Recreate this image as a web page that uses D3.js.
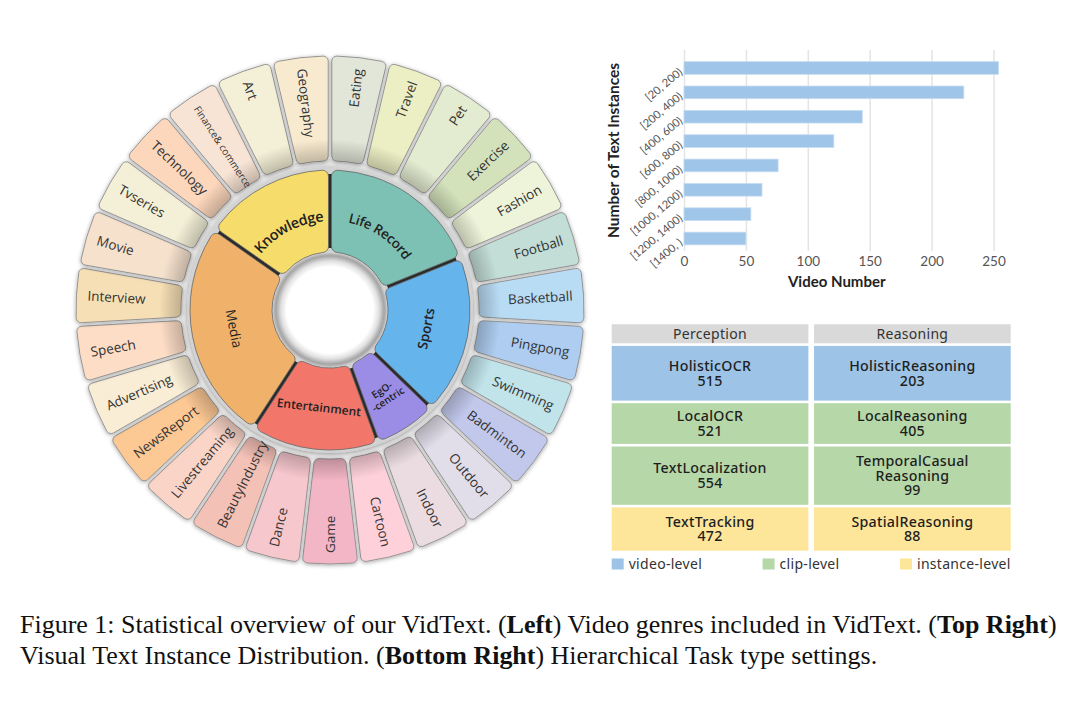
<!DOCTYPE html>
<html>
<head>
<meta charset="utf-8">
<script src="https://cdn.jsdelivr.net/npm/d3@7"></script>
<style>
  body { margin: 0; background: #fff; }
  svg { display: block; }
</style>
</head>
<body>
<svg id="fig" width="1080" height="703"></svg>
<script>
// ---- data: sunburst (inner ring = genre, outer ring = sub-genre) ----
const genres = ['Life Record', 'Sports', 'EgO-\n-centric', 'Entertainment', 'Media', 'Knowledge'];
const genreShare = [68, 66, 26, 53, 92, 55];   // angular share of the inner ring (degrees)
const genreColors = ['#7dc1b4', '#65b4ec', '#9b8de6', '#f2776a', '#f0b26a', '#f6dc6a'];

const subGenres = ['Eating', 'Travel', 'Pet', 'Exercise', 'Fashion',
  'Football', 'Basketball', 'Pingpong', 'Swimming', 'Badminton',
  'Outdoor', 'Indoor',
  'Cartoon', 'Game', 'Dance', 'BeautyIndustry', 'Livestreaming',
  'NewsReport', 'Advertising', 'Speech', 'Interview', 'Movie', 'Tvseries',
  'Technology', 'Finance& commerce', 'Art', 'Geography'];
const subGenreColors = ['#e2e6d8', '#ecefc4', '#e3ebd0', '#d3e2bb', '#eef4d9',
  '#c3ddd7', '#b9dcf5', '#aecdf0', '#c1e4eb', '#c2c8ec',
  '#e1dde9', '#ebdce2',
  '#fdd0da', '#f3b6c6', '#f6c7cd', '#f4c1b7', '#fad4c7',
  '#fcc894', '#f9edd5', '#fdddc6', '#f6dfb5', '#f6e1cd', '#f4f0d8',
  '#fdd7bc', '#f8e4d4', '#f4f0d7', '#f8eacf'];

// ---- data: bar chart ----
const textRanges = ['[20, 200)', '[200, 400)', '[400, 600)', '[600, 800)',
  '[800, 1000)', '[1000, 1200)', '[1200, 1400)', '[1400, )'];
const videoCounts = [254, 226, 144, 121, 76, 63, 54, 50];
const countTicks = [0, 50, 100, 150, 200, 250];

// ---- data: task table ----
const taskColumns = ['Perception', 'Reasoning'];
const perceptionTasks = ['HolisticOCR', 'LocalOCR', 'TextLocalization', 'TextTracking'];
const perceptionCounts = [515, 521, 554, 472];
const reasoningTasks = ['HolisticReasoning', 'LocalReasoning', 'TemporalCasual\nReasoning', 'SpatialReasoning'];
const reasoningCounts = [203, 405, 99, 88];
const taskLevels = ['video-level', 'clip-level', 'clip-level', 'instance-level'];
const levelNames = ['video-level', 'clip-level', 'instance-level'];
const levelColors = ['#9dc3e6', '#b6d7a8', '#fde59a'];

const svg = d3.select('#fig');
const defs = svg.append('defs');
const SANS = "'Open Sans', 'Noto Sans', sans-serif";

// ---------- Sunburst ----------
const cx = 330, cy = 310;
const R_HOLE = 57, R_IN = 140, R_OUT0 = 149, R_OUT1 = 254;

const shadow = defs.append('filter').attr('id', 'shadow')
  .attr('x', '-20%').attr('y', '-20%').attr('width', '140%').attr('height', '140%');
shadow.append('feDropShadow').attr('dx', 0).attr('dy', 1).attr('stdDeviation', 2)
  .attr('flood-color', '#000').attr('flood-opacity', 0.35);

const shade = defs.append('radialGradient').attr('id', 'shade')
  .attr('gradientUnits', 'userSpaceOnUse').attr('cx', 0).attr('cy', 0).attr('r', R_OUT1);
shade.append('stop').attr('offset', R_OUT0 / R_OUT1).attr('stop-color', '#000').attr('stop-opacity', 0.22);
shade.append('stop').attr('offset', (R_OUT0 + 22) / R_OUT1).attr('stop-color', '#000').attr('stop-opacity', 0);

const holeGrad = defs.append('radialGradient').attr('id', 'hole');
[[0, '#fff'], [0.76, '#fff'], [0.86, '#e0e0e0'], [0.95, '#a4a4a4'], [1, '#c4c4c4']]
  .forEach(([o, c]) => holeGrad.append('stop').attr('offset', o).attr('stop-color', c));

const sun = svg.append('g').attr('transform', `translate(${cx},${cy})`);

// soft grey halo between the two rings
sun.append('circle').attr('r', R_OUT0 + 2).attr('fill', '#e6e6e6');

// outer ring
const outerPie = d3.pie().value(1).sort(null)(subGenres);
const outerArc = d3.arc().innerRadius(R_OUT0).outerRadius(R_OUT1)
  .cornerRadius(5).padAngle(0.012);

const outerG = sun.append('g');
outerG.selectAll('path.seg')
  .data(outerPie)
  .join('path')
  .attr('class', 'seg')
  .attr('d', outerArc)
  .attr('fill', (d, i) => subGenreColors[i])
  .attr('stroke', '#8c8c8c')
  .attr('stroke-width', 0.9)
  .attr('filter', 'url(#shadow)');

outerG.selectAll('path.shade')
  .data(outerPie)
  .join('path')
  .attr('class', 'shade')
  .attr('d', outerArc)
  .attr('fill', 'url(#shade)');

// outer labels: anchored near the outer edge, reading outward on the right, inward on the left
const LABEL_R = 243;
outerG.selectAll('text')
  .data(outerPie)
  .join('text')
  .attr('transform', d => {
    const a = (d.startAngle + d.endAngle) / 2;
    const deg = a * 180 / Math.PI;
    const x = LABEL_R * Math.sin(a), y = -LABEL_R * Math.cos(a);
    return `translate(${x},${y}) rotate(${deg < 175 ? deg - 90 : deg + 90})`;
  })
  .attr('text-anchor', d => ((d.startAngle + d.endAngle) / 2 * 180 / Math.PI) < 175 ? 'end' : 'start')
  .attr('dy', '0.35em')
  .attr('font-family', SANS)
  .attr('font-size', d => d.data.length > 15 ? 10 : 13.5)
  .attr('fill', '#333')
  .text(d => d.data);

// inner ring
const innerPie = d3.pie().value(d => d).sort(null)(genreShare);
const innerArc = d3.arc().innerRadius(R_HOLE + 1).outerRadius(R_IN)
  .cornerRadius(6).padAngle(0.02);

sun.append('circle').attr('r', R_IN + 3).attr('fill', '#d2d2d2').attr('filter', 'url(#shadow)');
sun.append('path')
  .attr('d', d3.arc().innerRadius(R_HOLE + 5).outerRadius(R_IN - 4)
    .startAngle(0).endAngle(2 * Math.PI)())
  .attr('fill', '#2b2b2b');

const innerG = sun.append('g');
innerG.selectAll('path')
  .data(innerPie)
  .join('path')
  .attr('d', innerArc)
  .attr('fill', (d, i) => genreColors[i])
  .attr('stroke', '#666')
  .attr('stroke-width', 0.8);

// Knowledge and Life Record follow the arc; the rest are straight, tangent-rotated
const CURVED = new Set([0, 5]);
const LABEL_SIZE = [13.5, 13.5, 10, 12, 13.5, 14.5];
const polar = (r, a) => [r * Math.sin(a), -r * Math.cos(a)];

innerPie.forEach((d, i) => {
  if (!CURVED.has(i)) return;
  const r = 94;
  const [x0, y0] = polar(r, d.startAngle);
  const [x1, y1] = polar(r, d.endAngle);
  defs.append('path')
    .attr('id', `genre-path-${i}`)
    .attr('d', `M${x0},${y0} A${r},${r} 0 0 1 ${x1},${y1}`);
});

innerG.selectAll('text')
  .data(innerPie)
  .join('text')
  .attr('font-family', SANS)
  .attr('font-weight', (d, i) => i === 4 ? 400 : 600)
  .attr('font-size', (d, i) => LABEL_SIZE[i])
  .attr('fill', '#222')
  .each(function (d, i) {
    const t = d3.select(this);
    if (CURVED.has(i)) {
      t.append('textPath')
        .attr('href', `#genre-path-${i}`)
        .attr('startOffset', '50%')
        .attr('text-anchor', 'middle')
        .append('tspan').attr('dy', '0.35em').text(genres[i]);
      return;
    }
    const a = (d.startAngle + d.endAngle) / 2;
    const deg = a * 180 / Math.PI;
    const [x, y] = polar(i === 2 ? 101 : 98, a);
    const rot = (deg > 90 && deg < 270) ? deg - 180 : deg;
    t.attr('transform', `translate(${x},${y}) rotate(${rot})`)
      .attr('text-anchor', 'middle');
    const lines = genres[i].split('\n');
    lines.forEach((ln, k) => {
      t.append('tspan')
        .attr('x', 0)
        .attr('dy', k === 0 ? `${0.35 - (lines.length - 1) * 0.55}em` : '1.1em')
        .text(ln);
    });
  });

// centre hole
sun.append('circle').attr('r', R_HOLE).attr('fill', 'url(#hole)');

// ---------- Bar chart ----------
const x = d3.scaleLinear().domain([0, 250]).range([684, 993.5]);
const y = d3.scaleBand().domain(textRanges).range([55.8, 250.7])
  .paddingInner(0.48).paddingOuter(0.24);
const GRID_TOP = 50, GRID_BOTTOM = 251;
const BAR_FONT = "Lato, 'Open Sans', sans-serif";

const xAxis = svg.append('g')
  .attr('transform', `translate(0,${GRID_BOTTOM})`)
  .call(d3.axisBottom(x).tickValues(countTicks).tickSize(-(GRID_BOTTOM - GRID_TOP)).tickPadding(5));
xAxis.select('.domain').remove();
xAxis.selectAll('line').attr('stroke', '#e4e4e4').attr('stroke-width', 1.5);
xAxis.selectAll('text').attr('font-family', BAR_FONT).attr('font-size', 13.5).attr('fill', '#555');

svg.append('g')
  .selectAll('rect')
  .data(videoCounts)
  .join('rect')
  .attr('x', x(0))
  .attr('y', (d, i) => y(textRanges[i]))
  .attr('width', d => x(d) - x(0))
  .attr('height', y.bandwidth())
  .attr('fill', '#9fc5e8')
  .attr('stroke', '#c6dcf1')
  .attr('stroke-width', 0.8);

const yAxis = svg.append('g')
  .attr('transform', `translate(${x(0)},0)`)
  .call(d3.axisLeft(y).tickSize(0).tickPadding(4));
yAxis.select('.domain').remove();
yAxis.selectAll('text')
  .attr('transform', 'rotate(-40)')
  .attr('font-family', BAR_FONT)
  .attr('font-size', 11.2)
  .attr('fill', '#555');

svg.append('text')
  .attr('x', (x(0) + x(250)) / 2 - 2)
  .attr('y', 287)
  .attr('text-anchor', 'middle')
  .attr('font-family', BAR_FONT)
  .attr('font-weight', 700)
  .attr('font-size', 15)
  .attr('fill', '#222')
  .text('Video Number');

svg.append('text')
  .attr('transform', `translate(619,${(GRID_TOP + GRID_BOTTOM) / 2}) rotate(-90)`)
  .attr('text-anchor', 'middle')
  .attr('font-family', BAR_FONT)
  .attr('font-weight', 700)
  .attr('font-size', 15.5)
  .attr('fill', '#222')
  .text('Number of Text Instances');

// ---------- Task table ----------
const TABLE_FONT = "'Noto Sans', 'Open Sans', sans-serif";
const col = d3.scaleBand().domain(taskColumns).range([611.7, 1010.7]).paddingInner(0.028);
const HEADER_Y = 324.3, HEADER_H = 19, ROW_GAP = 2.6;
const rowHeights = [54.7, 40.7, 58.3, 43.3];
const rowTops = [];
rowHeights.reduce((top, h) => { rowTops.push(top); return top + h + ROW_GAP; }, HEADER_Y + HEADER_H + ROW_GAP);

const table = svg.append('g');
const header = table.selectAll('g.head').data(taskColumns).join('g').attr('class', 'head');
header.append('rect')
  .attr('x', d => col(d)).attr('y', HEADER_Y)
  .attr('width', col.bandwidth()).attr('height', HEADER_H)
  .attr('fill', '#d9d9d9');
header.append('text')
  .attr('x', d => col(d) + col.bandwidth() / 2)
  .attr('y', HEADER_Y + HEADER_H / 2)
  .attr('dy', '0.35em')
  .attr('text-anchor', 'middle')
  .attr('font-family', TABLE_FONT)
  .attr('font-size', 14)
  .attr('letter-spacing', 0.3)
  .attr('fill', '#333')
  .text(d => d);

const cells = [];
perceptionTasks.forEach((t, i) => cells.push({ col: 'Perception', row: i, name: t, count: perceptionCounts[i] }));
reasoningTasks.forEach((t, i) => cells.push({ col: 'Reasoning', row: i, name: t, count: reasoningCounts[i] }));

const cellG = table.selectAll('g.cell').data(cells).join('g').attr('class', 'cell');
cellG.append('rect')
  .attr('x', d => col(d.col)).attr('y', d => rowTops[d.row])
  .attr('width', col.bandwidth()).attr('height', d => rowHeights[d.row])
  .attr('fill', d => levelColors[levelNames.indexOf(taskLevels[d.row])]);

const LINE_H = 14.6;
cellG.each(function (d) {
  const lines = d.name.split('\n').concat([String(d.count)]);
  const midY = rowTops[d.row] + rowHeights[d.row] / 2;
  const t = d3.select(this).append('text')
    .attr('text-anchor', 'middle')
    .attr('font-family', TABLE_FONT)
    .attr('font-size', 14.2)
    .attr('font-weight', 500)
    .attr('letter-spacing', 0.3)
    .attr('fill', '#1e1e1e');
  lines.forEach((ln, k) => {
    t.append('tspan')
      .attr('x', col(d.col) + col.bandwidth() / 2)
      .attr('y', midY + (k - (lines.length - 1) / 2) * LINE_H)
      .attr('dy', '0.35em')
      .text(ln);
  });
});

// legend, spread across the table width
const legend = svg.append('g');
const LEG_Y = 564.5, SWATCH = 12, SW_GAP = 5;
const legItems = legend.selectAll('g').data(levelNames).join('g');
legItems.append('rect')
  .attr('y', LEG_Y - 6).attr('width', SWATCH).attr('height', 11)
  .attr('fill', (d, i) => levelColors[i]);
legItems.append('text')
  .attr('x', SWATCH + SW_GAP).attr('y', LEG_Y).attr('dy', '0.35em')
  .attr('font-family', TABLE_FONT).attr('font-size', 14).attr('letter-spacing', 0.3).attr('fill', '#333')
  .text(d => d);
const widths = [];
legItems.each(function () { widths.push(this.getBBox().width); });
const spread = (col.range()[1] - col.range()[0] - d3.sum(widths)) / (levelNames.length - 1);
let lx = col.range()[0];
legItems.attr('transform', (d, i) => { const t = `translate(${lx},0)`; lx += widths[i] + spread; return t; });

// ---------- Caption ----------
const caption = svg.append('g')
  .attr('font-family', "'Liberation Serif', 'Times New Roman', serif")
  .attr('fill', '#111');
const captionLines = [
  [['Figure 1: Statistical overview of our VidText. (', 400], ['Left', 700], [') Video genres included in VidText. (', 400], ['Top Right', 700], [')', 400]],
  [['Visual Text Instance Distribution. (', 400], ['Bottom Right', 700], [') Hierarchical Task type settings.', 400]]
];
const capTexts = caption.selectAll('text').data(captionLines).join('text')
  .attr('x', 20)
  .attr('y', (d, i) => [633, 664][i])
  .attr('font-size', 22);
capTexts.each(function (parts) {
  d3.select(this).selectAll('tspan').data(parts).join('tspan')
    .attr('font-weight', p => p[1])
    .text(p => p[0]);
});
// size the caption so the first line spans the figure width
const firstLen = capTexts.node().getComputedTextLength();
capTexts.attr('font-size', 22 * 1037 / firstLen);
</script>
</body>
</html>
